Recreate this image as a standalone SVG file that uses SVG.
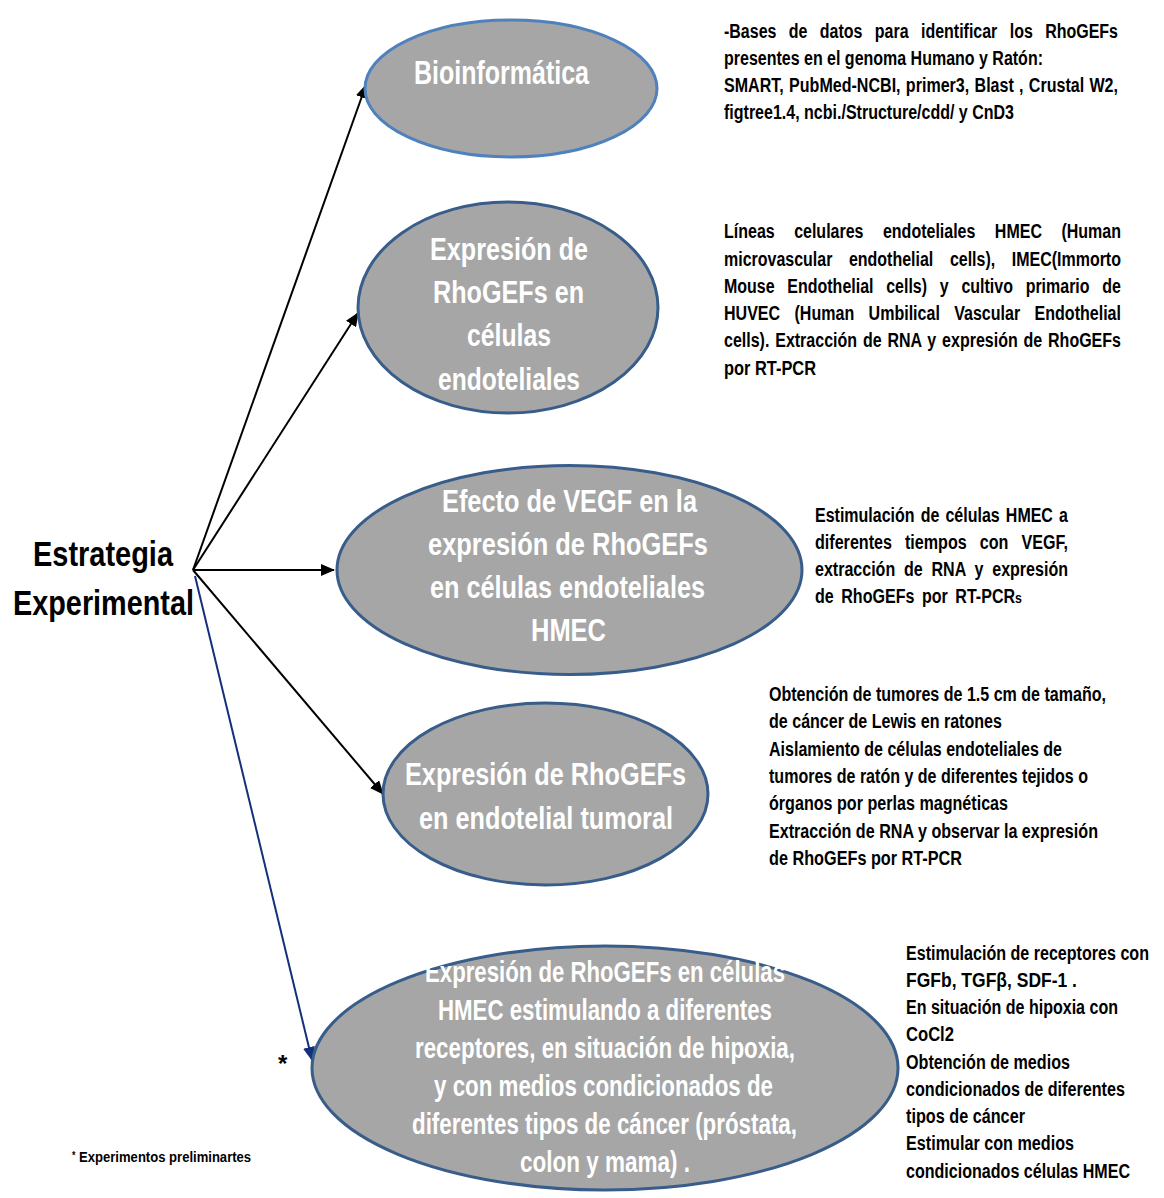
<svg xmlns="http://www.w3.org/2000/svg" width="1164" height="1198" viewBox="0 0 1164 1198">
  <style>
    .node { fill: #a6a6a6; stroke: #385d8a; stroke-width: 3; }
    .node-light { stroke: #4f81bd; }
    .in { font-family: "Liberation Sans", Arial, sans-serif; font-weight: bold; fill: #ffffff; }
    .note { font-family: "Liberation Sans", Arial, sans-serif; font-weight: bold; font-size: 19.5px; fill: #000000; }
    .root { font-family: "Liberation Sans", Arial, sans-serif; font-weight: bold; font-size: 35px; fill: #000000; }
    .link { fill: none; stroke: #000000; stroke-width: 2; }
    .link-blue { fill: none; stroke: #14307a; stroke-width: 2; }
  </style>
  <defs>
    <marker id="arrow" markerUnits="userSpaceOnUse" markerWidth="14" markerHeight="12" refX="13" refY="6" orient="auto">
      <path d="M0,0 L14,6 L0,12 Z" fill="#000000"/>
    </marker>
    <marker id="arrow-blue" markerUnits="userSpaceOnUse" markerWidth="14" markerHeight="12" refX="13" refY="6" orient="auto">
      <path d="M0,0 L14,6 L0,12 Z" fill="#14307a"/>
    </marker>
  </defs>

  <rect width="1164" height="1198" fill="#ffffff"/>

  <!-- connectors from the root label -->
  <g id="connectors">
    <line class="link" x1="193" y1="570" x2="366" y2="85" marker-end="url(#arrow)"/>
    <line class="link" x1="193" y1="570" x2="358" y2="313" marker-end="url(#arrow)"/>
    <line class="link" x1="193" y1="570" x2="334" y2="570" marker-end="url(#arrow)"/>
    <line class="link" x1="193" y1="570" x2="383" y2="794" marker-end="url(#arrow)"/>
    <line class="link-blue" x1="195" y1="576" x2="312" y2="1060" marker-end="url(#arrow-blue)"/>
  </g>

  <!-- root -->
  <g id="root">
    <text class="root" x="33" y="566" textLength="140" lengthAdjust="spacingAndGlyphs">Estrategia</text>
    <text class="root" x="13" y="615" textLength="181" lengthAdjust="spacingAndGlyphs">Experimental</text>
  </g>

  <!-- node 1 -->
  <g id="bioinformatica">
    <ellipse class="node node-light" cx="511" cy="88.5" rx="146" ry="68.5"/>
    <text class="in" font-size="33" x="414" y="84" textLength="175" lengthAdjust="spacingAndGlyphs">Bioinformática</text>
  </g>

  <!-- node 2 -->
  <g id="expresion-endoteliales">
    <ellipse class="node" cx="508" cy="307.5" rx="150" ry="105.5"/>
    <g class="in" font-size="32">
      <text x="430" y="260" textLength="158" lengthAdjust="spacingAndGlyphs">Expresión de</text>
      <text x="433" y="303" textLength="151" lengthAdjust="spacingAndGlyphs">RhoGEFs en</text>
      <text x="467" y="346" textLength="84" lengthAdjust="spacingAndGlyphs">células</text>
      <text x="438" y="390" textLength="142" lengthAdjust="spacingAndGlyphs">endoteliales</text>
    </g>
  </g>

  <!-- node 3 -->
  <g id="efecto-vegf">
    <ellipse class="node" cx="569.5" cy="570" rx="232.5" ry="104.5"/>
    <g class="in" font-size="32">
      <text x="442" y="512" textLength="255" lengthAdjust="spacingAndGlyphs">Efecto de VEGF en la</text>
      <text x="428" y="555" textLength="280" lengthAdjust="spacingAndGlyphs">expresión de RhoGEFs</text>
      <text x="430" y="598" textLength="275" lengthAdjust="spacingAndGlyphs">en células endoteliales</text>
      <text x="531" y="641" textLength="75" lengthAdjust="spacingAndGlyphs">HMEC</text>
    </g>
  </g>

  <!-- node 4 -->
  <g id="endotelial-tumoral">
    <ellipse class="node" cx="545.5" cy="794" rx="162.5" ry="91"/>
    <g class="in" font-size="32">
      <text x="405" y="785" textLength="281" lengthAdjust="spacingAndGlyphs">Expresión de RhoGEFs</text>
      <text x="419" y="829" textLength="254" lengthAdjust="spacingAndGlyphs">en endotelial tumoral</text>
    </g>
  </g>

  <!-- node 5 -->
  <g id="hmec-receptores">
    <ellipse class="node" cx="605" cy="1068" rx="293" ry="122"/>
    <g class="in" font-size="29">
      <text x="425" y="982" textLength="360" lengthAdjust="spacingAndGlyphs">Expresión de RhoGEFs en células</text>
      <text x="438" y="1020" textLength="334" lengthAdjust="spacingAndGlyphs">HMEC estimulando a diferentes</text>
      <text x="415" y="1058" textLength="380" lengthAdjust="spacingAndGlyphs">receptores, en situación de hipoxia,</text>
      <text x="434" y="1096" textLength="339" lengthAdjust="spacingAndGlyphs">y con medios condicionados de</text>
      <text x="412" y="1134" textLength="385" lengthAdjust="spacingAndGlyphs">diferentes tipos de cáncer (próstata,</text>
      <text x="520" y="1172" textLength="170" lengthAdjust="spacingAndGlyphs">colon y mama) .</text>
    </g>
  </g>

  <!-- descriptions: condensed to a narrow face; justified lines widen their word gaps -->
  <g id="desc-bioinformatica" class="note" transform="translate(724 0) scale(0.82 1)">
    <text x="0" y="38" word-spacing="9.7" textLength="480.5" lengthAdjust="spacingAndGlyphs">-Bases de datos para identificar los RhoGEFs</text>
    <text x="0" y="65" textLength="389" lengthAdjust="spacingAndGlyphs">presentes en el genoma Humano y Ratón:</text>
    <text x="0" y="92" word-spacing="1" textLength="480.5" lengthAdjust="spacingAndGlyphs">SMART, PubMed-NCBI, primer3, Blast , Crustal W2,</text>
    <text x="0" y="119" textLength="353.7" lengthAdjust="spacingAndGlyphs">figtree1.4, ncbi./Structure/cdd/ y CnD3</text>
  </g>

  <g id="desc-endoteliales" class="note" transform="translate(724 0) scale(0.82 1)">
    <text x="0" y="238" word-spacing="18.3" textLength="484.1" lengthAdjust="spacingAndGlyphs">Líneas celulares endoteliales HMEC (Human</text>
    <text x="0" y="266" word-spacing="14.8" textLength="484.1" lengthAdjust="spacingAndGlyphs">microvascular endothelial cells), IMEC(Immorto</text>
    <text x="0" y="293" word-spacing="10.1" textLength="484.1" lengthAdjust="spacingAndGlyphs">Mouse Endothelial cells) y cultivo primario de</text>
    <text x="0" y="320" word-spacing="12.1" textLength="484.1" lengthAdjust="spacingAndGlyphs">HUVEC (Human Umbilical Vascular Endothelial</text>
    <text x="0" y="347" word-spacing="1.7" textLength="484.1" lengthAdjust="spacingAndGlyphs">cells). Extracción de RNA y expresión de RhoGEFs</text>
    <text x="0" y="375" textLength="112.2" lengthAdjust="spacingAndGlyphs">por RT-PCR</text>
  </g>

  <g id="desc-vegf" class="note" transform="translate(815 0) scale(0.82 1)">
    <text x="0" y="522" word-spacing="2.1" textLength="308.5" lengthAdjust="spacingAndGlyphs">Estimulación de células HMEC a</text>
    <text x="0" y="549" word-spacing="10.4" textLength="308.5" lengthAdjust="spacingAndGlyphs">diferentes tiempos con VEGF,</text>
    <text x="0" y="576" word-spacing="5.3" textLength="308.5" lengthAdjust="spacingAndGlyphs">extracción de RNA y expresión</text>
    <text x="0" y="603" word-spacing="3.7" textLength="252.4" lengthAdjust="spacingAndGlyphs">de RhoGEFs por RT-PCR<tspan font-size="15">s</tspan></text>
  </g>

  <g id="desc-tumoral" class="note" transform="translate(769 0) scale(0.82 1)">
    <text x="0" y="701" textLength="411" lengthAdjust="spacingAndGlyphs">Obtención de tumores de 1.5 cm de tamaño,</text>
    <text x="0" y="728" textLength="284.1" lengthAdjust="spacingAndGlyphs">de cáncer de Lewis en ratones</text>
    <text x="0" y="756" textLength="357.3" lengthAdjust="spacingAndGlyphs">Aislamiento de células endoteliales de</text>
    <text x="0" y="783" textLength="389" lengthAdjust="spacingAndGlyphs">tumores de ratón y de diferentes tejidos o</text>
    <text x="0" y="810" textLength="291.5" lengthAdjust="spacingAndGlyphs">órganos por perlas magnéticas</text>
    <text x="0" y="838" textLength="401.2" lengthAdjust="spacingAndGlyphs">Extracción de RNA y observar la expresión</text>
    <text x="0" y="865" textLength="235.4" lengthAdjust="spacingAndGlyphs">de RhoGEFs por RT-PCR</text>
  </g>

  <g id="desc-receptores" class="note" transform="translate(906 0) scale(0.82 1)">
    <text x="0" y="960" textLength="296.3" lengthAdjust="spacingAndGlyphs">Estimulación de receptores con</text>
    <text x="0" y="987" textLength="208.5" lengthAdjust="spacingAndGlyphs">FGFb, TGFβ, SDF-1 .</text>
    <text x="0" y="1014" textLength="258.5" lengthAdjust="spacingAndGlyphs">En situación de hipoxia con</text>
    <text x="0" y="1041" textLength="58.5" lengthAdjust="spacingAndGlyphs">CoCl2</text>
    <text x="0" y="1069" textLength="200" lengthAdjust="spacingAndGlyphs">Obtención de medios</text>
    <text x="0" y="1096" textLength="267" lengthAdjust="spacingAndGlyphs">condicionados de diferentes</text>
    <text x="0" y="1123" textLength="145.1" lengthAdjust="spacingAndGlyphs">tipos de cáncer</text>
    <text x="0" y="1150" textLength="204.9" lengthAdjust="spacingAndGlyphs">Estimular con medios</text>
    <text x="0" y="1178" textLength="273.2" lengthAdjust="spacingAndGlyphs">condicionados células HMEC</text>
  </g>

  <!-- footnote marks -->
  <text x="278" y="1072" font-family="Liberation Sans, Arial, sans-serif" font-weight="bold" font-size="24" fill="#000000">*</text>
  <g id="footnote" transform="translate(72 0) scale(0.843 1)" font-family="Liberation Sans, Arial, sans-serif" font-weight="bold" fill="#000000">
    <text x="0" y="1162" font-size="15.5"><tspan font-size="10.5" dy="-3">*</tspan><tspan dy="3"> Experimentos preliminartes</tspan></text>
  </g>
</svg>
